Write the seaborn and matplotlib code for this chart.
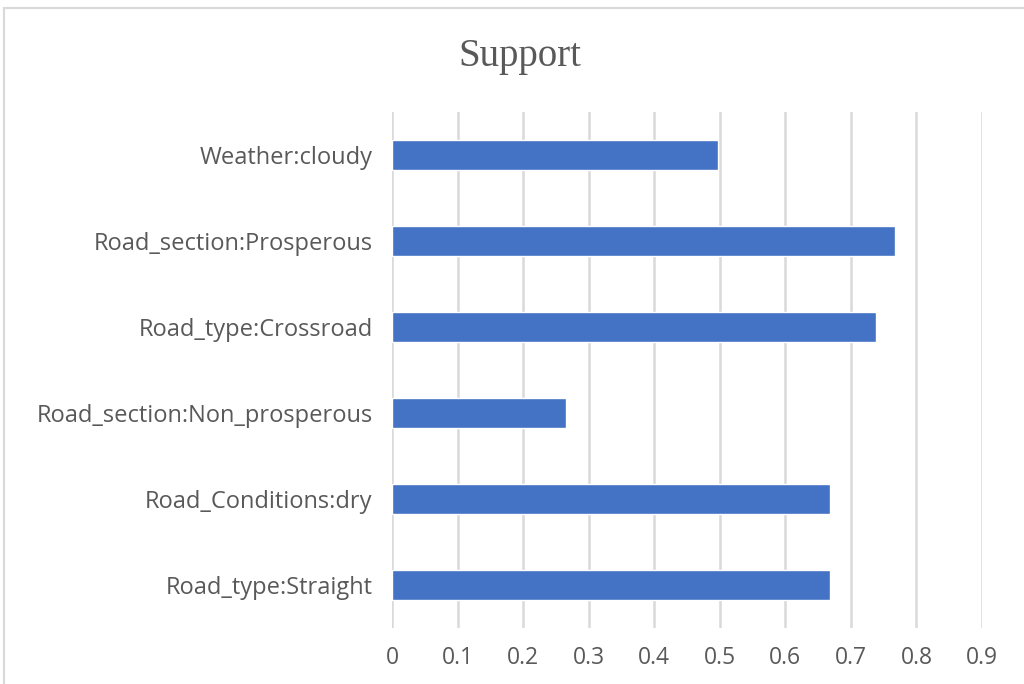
import matplotlib
matplotlib.use("Agg")
import matplotlib.pyplot as plt
import seaborn as sns
import pandas as pd
from matplotlib.patches import Rectangle

# data
rules = [
    "Weather:cloudy",
    "Road_section:Prosperous",
    "Road_type:Crossroad",
    "Road_section:Non_prosperous",
    "Road_Conditions:dry",
    "Road_type:Straight",
]
support = [0.498, 0.767, 0.739, 0.265, 0.668, 0.668]
xticks = [0, 0.1, 0.2, 0.3, 0.4, 0.5, 0.6, 0.7, 0.8, 0.9]

df = pd.DataFrame({"rule": rules, "support": support})

sns.set_theme(style="white")
plt.rcParams["font.family"] = ["Open Sans", "DejaVu Sans"]

fig = plt.figure(figsize=(10.24, 6.84), dpi=100)
ax = fig.add_axes([0.3828, 0.0819, 0.5762, 0.7544])

sns.barplot(data=df, x="support", y="rule", orient="h", color="#4472C4",
            width=0.35, saturation=1, ax=ax, zorder=3)

ax.set_xlim(0, 0.9)
ax.set_ylim(len(rules) - 0.5, -0.5)
ax.set_xticks(xticks)
ax.set_xticklabels([f"{t:g}" for t in xticks])
ax.xaxis.grid(True, color="#d9d9d9", linewidth=1.8, zorder=0)
ax.yaxis.grid(False)
for s in ax.spines.values():
    s.set_visible(False)
ax.tick_params(axis="both", length=0, labelcolor="#595959")
ax.tick_params(axis="y", pad=14, labelsize=17)
ax.tick_params(axis="x", pad=13, labelsize=16.5)
ax.set_xlabel("")
ax.set_ylabel("")

fig.text(0.508, 0.918, "Support", ha="center", va="center", fontsize=28,
         color="#595959", family="Liberation Serif")

# outer chart frame
fig.patches.append(Rectangle((4 / 1024, -0.01), 1.02, 1 - 8 / 684 + 0.01,
                             transform=fig.transFigure, fill=False,
                             edgecolor="#d9d9d9", linewidth=1.5))

fig.savefig("out.png", dpi=100)
